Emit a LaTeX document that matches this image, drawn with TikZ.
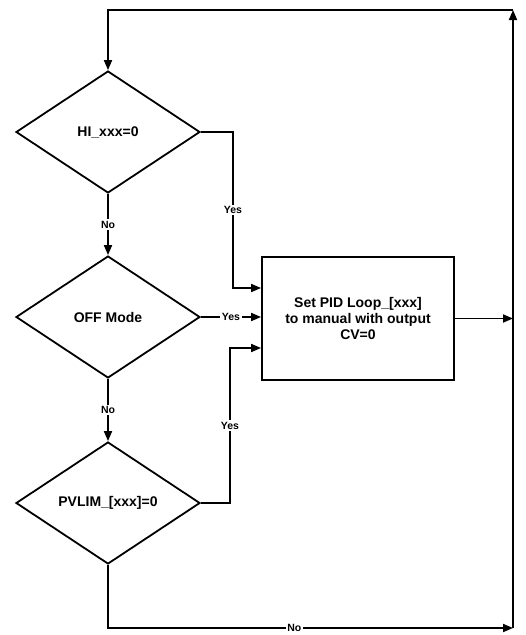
\documentclass[tikz,border=0pt]{standalone}
\usepackage{fontspec}
\setmainfont{Liberation Sans}
\usetikzlibrary{shapes.geometric,arrows.meta}
\begin{document}
\begin{tikzpicture}[x=1pt,y=-1pt,line width=1.8pt,
  flow/.style={draw,-{Triangle[length=10pt,width=8pt]}},
  decision/.style={diamond,draw,aspect=1.5,minimum width=184pt,minimum height=122pt,inner sep=0pt,font=\fontsize{14}{16}\selectfont\bfseries},
  action/.style={rectangle,draw,minimum width=192pt,minimum height=123pt,align=center,font=\fontsize{14}{16}\selectfont\bfseries},
  tag/.style={fill=white,inner sep=1.5pt,font=\fontsize{10.5}{12}\selectfont\bfseries}]
  \useasboundingbox (0,0) rectangle (526,635);
  \node[decision] (hi) at (108,132) {HI\_xxx=0};
  \node[decision] (off) at (108,317) {OFF Mode};
  \node[decision] (pvlim) at (108,503) {PVLIM\_[xxx]=0};
  \node[action] (setpid) at (358,318.5) {Set PID Loop\_[xxx]\\to manual with output\\CV=0};
  \coordinate (rt) at (513,10);
  \coordinate (lt) at (108,10);
  \coordinate (rb) at (513,628);
  \coordinate (rm) at (513,318.5);
  \coordinate (j1) at (233,288);
  \coordinate (j3) at (230,348);
  % decisions
  \draw[flow] (hi) -- node[tag] {No} (off);
  \draw[flow] (off) -- node[tag] {No} (pvlim);
  \draw[flow] (hi.east) -| node[tag,pos=0.75] {Yes} (j1) -- (j1 -| setpid.west);
  \draw[flow] (off.east) -- node[tag] {Yes} (off.east -| setpid.west);
  \draw[flow] (pvlim.east) -| node[tag,pos=0.75] {Yes} (j3) -- (j3 -| setpid.west);
  \draw[flow] (pvlim.south) |- node[tag,pos=0.73] {No} (rb);
  % return loop
  \draw[flow] (setpid.east) -- (rm);
  \draw[flow] (rb) -- (rt);
  \draw[flow] (rt) -- (lt) -- (hi.north);
\end{tikzpicture}
\end{document}
